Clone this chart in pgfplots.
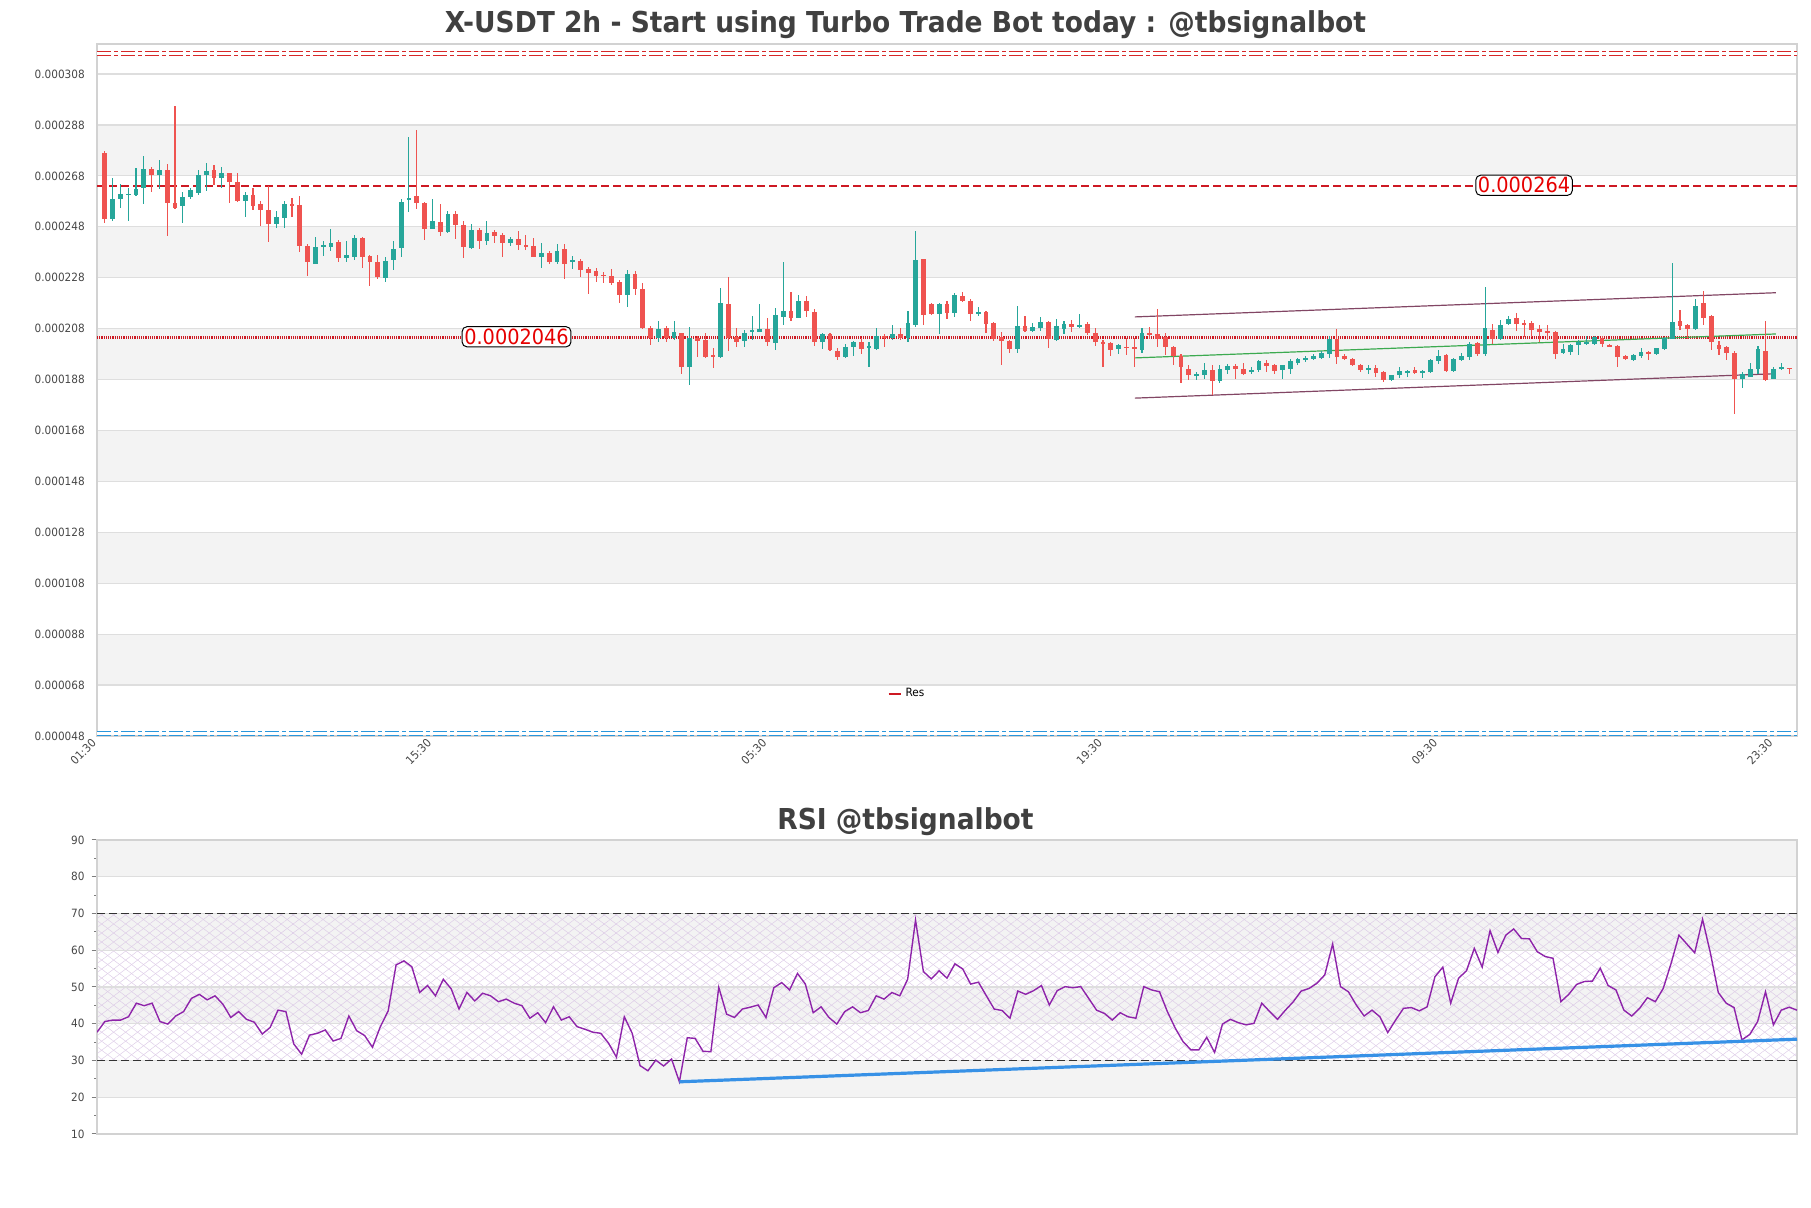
\documentclass[border=0pt]{standalone}
\usepackage{pgfplots}
\pgfplotsset{compat=1.18}
\usepackage{pgfplotstable}
\usepackage{fontspec}
\setmainfont{DejaVu Sans}[FakeStretch=0.92]
\usetikzlibrary{patterns.meta}
\definecolor{cgreen}{RGB}{38,166,154}
\definecolor{cred}{RGB}{239,83,80}
\definecolor{bandgray}{RGB}{243,243,243}
\definecolor{gridgray}{RGB}{222,222,222}
\definecolor{spinegray}{RGB}{210,210,210}
\definecolor{titlegray}{RGB}{64,64,64}
\definecolor{ticktext}{RGB}{70,70,70}
\definecolor{labred}{RGB}{230,0,0}
\definecolor{resred}{RGB}{205,25,35}
\definecolor{topred}{RGB}{215,40,40}
\definecolor{botblue}{RGB}{40,150,220}
\definecolor{chan}{RGB}{130,70,100}
\definecolor{midgreen}{RGB}{60,170,80}
\definecolor{rsipurple}{RGB}{142,36,170}
\definecolor{trendblue}{RGB}{55,145,230}
\definecolor{hatchcol}{RGB}{222,205,232}
\definecolor{dashcol}{RGB}{50,50,50}
\newcommand\ticksize{\fontsize{5.7}{6.8}\selectfont}

\pgfplotstableread{
i o h l c
0 277.1 277.8 249.4 251.1
1 251.1 267.0 250.4 259.1
2 259.1 264.7 255.4 260.8
3 260.7 263.4 250.4 260.9
4 260.6 270.9 260.2 263.0
5 263.4 275.8 257.1 270.6
6 270.6 271.5 261.5 268.4
7 268.4 274.1 263.0 270.3
8 270.3 272.7 244.5 257.2
9 257.4 295.4 255.0 255.4
10 256.3 261.5 249.4 259.8
11 259.8 263.4 258.9 262.4
12 261.2 270.2 260.6 268.3
13 268.4 273.2 262.1 269.8
14 270.2 272.2 264.5 267.3
15 267.3 271.5 263.4 269.0
16 269.0 269.3 257.3 265.4
17 265.4 269.0 257.6 258.1
18 258.1 261.5 252.0 260.4
19 260.4 263.4 254.6 256.3
20 256.8 258.2 248.5 254.7
21 254.6 264.1 242.2 249.1
22 249.1 254.3 247.7 251.7
23 251.5 258.1 247.7 256.9
24 256.9 259.5 251.7 256.3
25 256.5 260.2 238.0 240.6
26 240.6 241.3 228.5 234.1
27 233.5 243.9 233.2 240.0
28 240.0 242.6 236.7 240.9
29 240.2 247.2 238.3 241.5
30 242.2 243.0 234.1 235.8
31 235.8 242.6 234.1 237.0
32 236.1 244.8 234.8 243.6
33 243.6 243.9 231.9 236.1
34 236.5 237.0 224.6 234.1
35 234.1 237.0 227.6 228.3
36 227.9 236.1 226.3 234.5
37 234.8 242.3 230.9 239.3
38 239.6 259.1 236.3 257.6
39 258.6 283.4 253.7 259.5
40 259.9 286.2 255.0 257.3
41 257.3 257.6 243.0 247.2
42 247.2 258.9 247.2 250.1
43 249.8 256.9 244.5 245.8
44 245.8 254.1 245.6 252.9
45 252.9 254.3 243.2 248.8
46 248.7 250.4 235.7 239.9
47 239.7 249.1 239.1 246.8
48 246.8 247.4 239.3 242.6
49 242.6 250.4 240.9 245.6
50 246.1 246.8 241.7 244.5
51 244.8 245.6 236.3 241.7
52 241.7 243.9 240.6 243.2
53 243.2 246.5 238.7 240.9
54 240.9 244.8 238.9 240.0
55 240.6 243.5 236.1 236.3
56 236.3 241.7 231.9 237.8
57 237.8 238.3 233.5 234.1
58 234.1 241.3 233.5 238.6
59 239.1 241.3 227.6 233.5
60 234.1 236.7 231.5 234.8
61 234.5 235.4 228.3 230.9
62 231.3 232.2 221.7 229.9
63 230.5 231.8 226.3 228.6
64 229.0 230.4 225.8 228.8
65 228.8 231.3 225.1 225.8
66 226.2 227.1 217.9 221.2
67 221.2 231.0 216.4 229.3
68 229.3 230.6 221.2 223.6
69 223.6 225.8 207.9 208.1
70 208.4 209.0 201.6 204.5
71 204.5 211.1 202.6 207.7
72 208.1 209.0 202.6 204.2
73 204.2 210.8 203.5 206.6
74 206.2 206.4 190.1 192.9
75 192.9 208.5 185.9 204.2
76 204.5 205.1 197.0 203.2
77 203.5 206.4 196.6 197.0
78 197.6 200.3 192.7 197.2
79 196.9 223.8 196.6 217.9
80 217.5 228.1 199.2 204.2
81 204.9 208.1 200.7 202.6
82 203.2 207.5 200.7 206.4
83 206.7 213.1 203.5 207.3
84 206.8 217.5 206.8 207.7
85 207.7 212.1 201.2 202.6
86 202.3 216.0 199.6 213.4
87 212.5 234.0 209.4 215.1
88 215.1 222.2 211.1 212.1
89 212.1 221.2 212.1 219.0
90 219.0 221.0 212.7 214.9
91 214.7 215.7 201.2 202.9
92 202.6 206.4 200.0 205.9
93 205.8 206.2 199.2 199.6
94 199.4 200.3 195.7 196.8
95 196.8 201.9 196.4 200.9
96 200.7 203.3 197.4 202.6
97 202.6 204.2 197.9 200.0
98 200.8 202.9 193.1 201.0
99 200.0 208.1 199.6 205.1
100 205.1 205.8 200.7 204.5
101 204.2 209.4 203.5 205.8
102 205.8 208.1 203.5 204.5
103 204.5 215.1 202.6 210.1
104 209.4 246.3 208.5 234.9
105 235.2 235.2 209.4 213.4
106 217.5 217.9 213.4 213.6
107 213.6 217.9 205.8 217.5
108 217.5 218.9 211.8 214.3
109 214.0 221.9 212.7 221.2
110 220.8 222.2 218.3 218.9
111 218.9 219.6 211.0 213.6
112 214.2 216.6 213.1 214.4
113 214.4 215.1 206.2 209.8
114 210.1 210.5 203.2 203.8
115 204.9 206.6 193.8 203.2
116 203.2 203.5 198.3 199.9
117 199.9 217.0 198.3 209.0
118 209.0 213.1 206.6 207.2
119 207.2 210.1 206.6 208.5
120 208.1 212.5 207.2 210.5
121 210.5 211.1 200.3 204.0
122 203.5 211.7 203.2 209.0
123 207.7 211.1 205.8 209.8
124 209.8 211.4 206.8 208.8
125 208.8 213.6 208.1 209.4
126 209.8 210.5 205.5 206.2
127 206.4 208.1 201.3 202.6
128 202.9 203.5 192.9 202.0
129 202.3 202.6 197.4 199.6
130 200.0 202.0 198.1 201.6
131 200.8 204.5 197.7 200.6
132 200.7 204.2 193.1 200.3
133 199.6 208.4 198.3 206.4
134 206.1 208.7 204.1 205.4
135 205.7 215.7 200.8 204.1
136 204.8 206.1 197.5 200.8
137 200.8 201.2 193.6 197.3
138 197.3 198.2 186.8 192.9
139 192.3 193.6 187.7 189.7
140 189.8 191.0 187.7 190.0
141 189.7 194.6 188.1 191.9
142 191.9 193.6 182.0 187.4
143 187.3 193.6 186.8 192.3
144 191.6 194.0 190.3 193.2
145 193.2 194.0 188.3 192.0
146 192.3 194.5 189.7 190.3
147 191.0 192.9 190.3 191.9
148 191.6 195.6 191.0 195.2
149 194.6 195.6 191.0 193.2
150 193.6 194.2 190.3 191.4
151 191.6 193.9 188.1 193.6
152 192.3 196.2 190.3 195.2
153 194.6 196.5 193.6 196.0
154 195.6 197.3 194.9 196.5
155 196.0 198.2 195.6 197.1
156 196.5 199.1 196.0 198.5
157 198.2 205.2 196.6 204.1
158 204.1 208.0 194.2 196.9
159 197.1 198.2 195.6 196.0
160 196.2 196.5 193.3 193.6
161 193.9 194.0 191.0 191.6
162 191.6 193.9 190.3 192.7
163 192.7 193.6 189.0 190.7
164 191.0 191.4 187.0 187.7
165 187.7 189.9 187.4 189.7
166 189.7 192.9 188.7 191.4
167 190.7 191.6 189.0 191.4
168 191.6 192.9 190.3 190.7
169 190.7 191.6 188.7 191.4
170 191.0 196.0 190.7 195.6
171 195.2 199.5 194.2 197.1
172 197.5 198.2 191.0 191.2
173 191.2 196.5 191.0 196.0
174 195.6 198.5 195.3 197.3
175 196.9 202.8 195.6 201.9
176 202.4 202.8 197.3 198.2
177 198.0 224.5 197.3 208.4
178 207.4 210.0 202.1 204.1
179 204.1 211.3 203.5 209.6
180 210.0 213.0 209.6 211.6
181 212.0 214.2 207.0 210.0
182 210.1 211.3 204.8 209.9
183 210.3 211.1 204.8 207.4
184 207.7 209.4 202.8 206.7
185 207.0 209.4 203.5 206.5
186 206.5 207.0 196.0 198.2
187 198.6 202.1 198.2 199.9
188 198.9 202.1 197.5 201.7
189 201.5 203.5 197.5 202.8
190 202.1 205.2 201.7 202.8
191 202.1 205.2 201.5 204.8
192 204.5 205.2 200.8 201.9
193 201.3 202.1 200.8 201.1
194 201.2 201.7 192.9 196.9
195 197.3 197.5 195.6 196.0
196 195.6 198.2 195.3 197.5
197 197.3 200.4 196.6 198.9
198 198.9 199.1 195.6 198.0
199 198.0 200.4 197.5 200.2
200 199.9 204.8 199.5 204.4
201 204.1 233.7 203.8 210.7
202 210.9 215.3 207.4 209.0
203 209.4 210.0 203.8 207.8
204 207.8 219.6 207.4 216.8
205 217.9 222.9 209.6 212.2
206 212.9 213.3 199.5 202.8
207 201.5 203.1 197.5 199.9
208 200.8 201.1 195.6 198.6
209 198.6 199.2 174.3 188.3
210 188.3 191.0 184.6 190.3
211 189.0 194.6 189.0 192.3
212 192.3 201.2 190.3 199.9
213 199.4 210.9 187.3 187.7
214 188.3 192.9 188.3 192.3
215 192.3 194.6 191.6 192.9
216 192.7 192.7 190.3 192.0
}\candles

\pgfplotstableread{
i r
0 37.7
1 40.6
2 41.0
3 41.0
4 41.9
5 45.6
6 44.9
7 45.6
8 40.6
9 39.9
10 42.1
11 43.3
12 46.9
13 48.0
14 46.5
15 47.6
16 45.3
17 41.7
18 43.3
19 41.2
20 40.4
21 37.2
22 39.0
23 43.7
24 43.3
25 34.5
26 31.7
27 36.9
28 37.4
29 38.3
30 35.3
31 36.0
32 42.1
33 38.1
34 36.8
35 33.6
36 39.2
37 43.5
38 56.0
39 57.1
40 55.5
41 48.5
42 50.4
43 47.6
44 52.1
45 49.5
46 44.0
47 48.5
48 46.2
49 48.3
50 47.6
51 46.0
52 46.7
53 45.6
54 44.9
55 41.5
56 43.0
57 40.3
58 44.6
59 41.0
60 41.9
61 39.2
62 38.5
63 37.7
64 37.4
65 34.7
66 30.9
67 41.9
68 37.4
69 28.6
70 27.2
71 30.1
72 28.5
73 30.4
74 24.2
75 36.2
76 36.0
77 32.5
78 32.4
79 49.9
80 42.6
81 41.7
82 44.0
83 44.5
84 45.1
85 41.7
86 49.8
87 51.2
88 49.2
89 53.7
90 50.8
91 43.0
92 44.6
93 41.7
94 39.9
95 43.3
96 44.6
97 43.0
98 43.6
99 47.6
100 46.7
101 48.5
102 47.6
103 52.1
104 68.2
105 54.2
106 52.2
107 54.4
108 52.4
109 56.3
110 54.9
111 50.8
112 51.3
113 47.6
114 44.0
115 43.6
116 41.5
117 48.9
118 48.0
119 49.0
120 50.4
121 45.1
122 49.0
123 50.1
124 49.8
125 50.1
126 46.9
127 43.7
128 42.8
129 41.0
130 43.0
131 41.9
132 41.5
133 50.1
134 49.2
135 48.7
136 43.3
137 38.8
138 35.1
139 32.9
140 32.9
141 36.3
142 32.2
143 39.9
144 41.2
145 40.3
146 39.7
147 40.1
148 45.6
149 43.3
150 41.2
151 43.7
152 46.0
153 48.9
154 49.6
155 51.0
156 53.3
157 61.7
158 50.1
159 48.7
160 45.1
161 42.1
162 43.7
163 41.9
164 37.6
165 41.0
166 44.2
167 44.4
168 43.5
169 44.6
170 52.8
171 55.4
172 45.6
173 52.4
174 54.4
175 60.5
176 55.4
177 65.3
178 59.4
179 64.1
180 65.8
181 63.2
182 63.1
183 59.6
184 58.3
185 57.8
186 46.0
187 48.0
188 50.7
189 51.5
190 51.6
191 55.1
192 50.4
193 49.2
194 43.7
195 42.1
196 44.2
197 47.1
198 46.0
199 49.6
200 56.4
201 64.1
202 61.7
203 59.3
204 68.4
205 59.2
206 48.5
207 45.6
208 44.4
209 35.6
210 37.1
211 40.6
212 48.7
213 39.7
214 43.7
215 44.5
216 43.7
}\rsi

\begin{document}
\begin{tikzpicture}
\node[font=\fontsize{14.4}{16}\selectfont\bfseries, text=titlegray, anchor=base] at (452.75pt,587.5pt) {X-USDT 2h - Start using Turbo Trade Bot today : @tbsignalbot};
\node[font=\fontsize{14.4}{16}\selectfont\bfseries, text=titlegray, anchor=base] at (452.75pt,189pt) {RSI @tbsignalbot};

\begin{axis}[
  set layers,
  at={(48.5pt,236pt)}, anchor=south west,
  width=850pt, height=346pt, scale only axis,
  xmin=-1, xmax=217, ymin=48, ymax=319.8,
  axis line style={spinegray, line width=0.6pt},
  xtick={0,43,86,129,172,215},
  xticklabels={01:30,15:30,05:30,19:30,09:30,23:30},
  ytick={48,68,...,308},
  yticklabels={0.000048,0.000068,0.000088,0.000108,0.000128,0.000148,0.000168,0.000188,0.000208,0.000228,0.000248,0.000268,0.000288,0.000308},
  ymajorgrids, grid style={gridgray, line width=0.6pt},
  major tick length=0pt,
  tick label style={font=\ticksize, text=ticktext},
  xticklabel style={xshift=-7pt, yshift=3.9pt, rotate=45, anchor=north east},
  yticklabel style={xshift=-2.6pt},
  legend style={at={(0.477,0.061)}, anchor=center, draw=none, fill=none, font=\ticksize, text=black},
  legend image code/.code={\draw[resred, line width=1pt] (0pt,0pt) -- (6pt,0pt);},
]
\begin{pgfonlayer}{axis background}
\fill[bandgray] (axis cs:-1,268) rectangle (axis cs:217,288);
\fill[bandgray] (axis cs:-1,228) rectangle (axis cs:217,248);
\fill[bandgray] (axis cs:-1,188) rectangle (axis cs:217,208);
\fill[bandgray] (axis cs:-1,148) rectangle (axis cs:217,168);
\fill[bandgray] (axis cs:-1,108) rectangle (axis cs:217,128);
\fill[bandgray] (axis cs:-1,68) rectangle (axis cs:217,88);
\end{pgfonlayer}

\addplot[forget plot, draw=topred, line width=0.45pt, double=white, double distance=1.4pt, dash pattern=on 7pt off 1.5pt on 2pt off 1.5pt] coordinates {(-1,316.1) (217,316.1)};
\addplot[forget plot, draw=botblue, line width=0.45pt, double=white, double distance=1.4pt, dash pattern=on 7pt off 1.5pt on 2pt off 1.5pt] coordinates {(-1,49.0) (217,49.0)};

\addplot[forget plot, resred, line width=0.7pt, dash pattern=on 4pt off 2pt] coordinates {(-1,264) (217,264)};
\addplot[forget plot, resred, line width=1.3pt, dash pattern=on 0.6pt off 0.5pt] coordinates {(-1,204.6) (217,204.6)};

\addplot[forget plot, chan, line width=0.6pt] coordinates {(132.1,212.6) (214.3,222.1)};
\addplot[forget plot, chan, line width=0.6pt] coordinates {(132.1,180.7) (214.3,190.3)};
\addplot[forget plot, midgreen, line width=0.6pt] coordinates {(132.1,196.5) (214.3,205.9)};

\addplot[forget plot, draw=none, mark=none,
  restrict expr to domain={\thisrow{c}-\thisrow{o}}{0:1000},
  error bars/.cd, y dir=both, y explicit, error mark=none,
  error bar style={line width=0.55pt, draw=cgreen}]
  table[x=i, y expr={(\thisrow{h}+\thisrow{l})/2}, y error expr={(\thisrow{h}-\thisrow{l})/2}] {\candles};
\addplot[forget plot, draw=none, mark=none,
  restrict expr to domain={\thisrow{c}-\thisrow{o}}{-1000:-0.001},
  error bars/.cd, y dir=both, y explicit, error mark=none,
  error bar style={line width=0.55pt, draw=cred}]
  table[x=i, y expr={(\thisrow{h}+\thisrow{l})/2}, y error expr={(\thisrow{h}-\thisrow{l})/2}] {\candles};
\addplot[forget plot, draw=none, mark=none,
  restrict expr to domain={\thisrow{c}-\thisrow{o}}{0:1000},
  error bars/.cd, y dir=both, y explicit, error mark=none,
  error bar style={line width=2.4pt, draw=cgreen}]
  table[x=i, y expr={(\thisrow{o}+\thisrow{c})/2}, y error expr={max(abs(\thisrow{c}-\thisrow{o})/2,0.25)}] {\candles};
\addplot[forget plot, draw=none, mark=none,
  restrict expr to domain={\thisrow{c}-\thisrow{o}}{-1000:-0.001},
  error bars/.cd, y dir=both, y explicit, error mark=none,
  error bar style={line width=2.4pt, draw=cred}]
  table[x=i, y expr={(\thisrow{o}+\thisrow{c})/2}, y error expr={max(abs(\thisrow{c}-\thisrow{o})/2,0.25)}] {\candles};

\node[draw=black, line width=0.5pt, rounded corners=2.5pt, fill=white, text=labred, inner sep=1.1pt, font=\fontsize{10.5}{11}\selectfont] at (axis cs:182,264.3) {0.000264};
\node[draw=black, line width=0.5pt, rounded corners=2.5pt, fill=white, text=labred, inner sep=1.1pt, font=\fontsize{10.5}{11}\selectfont] at (axis cs:52.8,204.8) {0.0002046};

\addlegendimage{resred}
\addlegendentry{Res}
\end{axis}

\begin{axis}[
  set layers,
  at={(48.5pt,37pt)}, anchor=south west,
  width=850pt, height=147pt, scale only axis,
  xmin=0, xmax=216, ymin=10, ymax=90,
  xtick=\empty,
  ytick={10,20,...,90}, minor ytick={15,25,...,85},
  ytick pos=left,
  ymajorgrids, grid style={gridgray, line width=0.6pt},
  axis line style={spinegray, line width=0.6pt},
  tick align=outside, major tick length=2.75pt, minor tick length=1.5pt,
  tick style={ticktext!70, line width=0.5pt},
  tick label style={font=\ticksize, text=ticktext},
  /pgf/number format/assume math mode=true,
]
\begin{pgfonlayer}{axis background}
\fill[bandgray] (axis cs:0,80) rectangle (axis cs:216,90);
\fill[bandgray] (axis cs:0,60) rectangle (axis cs:216,70);
\fill[bandgray] (axis cs:0,40) rectangle (axis cs:216,50);
\fill[bandgray] (axis cs:0,20) rectangle (axis cs:216,30);
\fill[pattern={Lines[angle=37,distance=3.6pt,line width=0.25pt]}, pattern color=hatchcol] (axis cs:0,30) rectangle (axis cs:216,70);
\fill[pattern={Lines[angle=-37,distance=3.6pt,line width=0.25pt]}, pattern color=hatchcol] (axis cs:0,30) rectangle (axis cs:216,70);
\end{pgfonlayer}
\addplot[dashcol, line width=0.6pt, dash pattern=on 4pt off 2pt] coordinates {(0,70) (216,70)};
\addplot[dashcol, line width=0.6pt, dash pattern=on 4pt off 2pt] coordinates {(0,30) (216,30)};
\addplot[rsipurple, line width=0.7pt] table[x=i, y=r] {\rsi};
\addplot[trendblue, line width=1.6pt] coordinates {(74,24.2) (216,35.8)};
\end{axis}
\pgfresetboundingbox
\useasboundingbox (0,0) rectangle (905.5pt,604pt);
\end{tikzpicture}
\end{document}
